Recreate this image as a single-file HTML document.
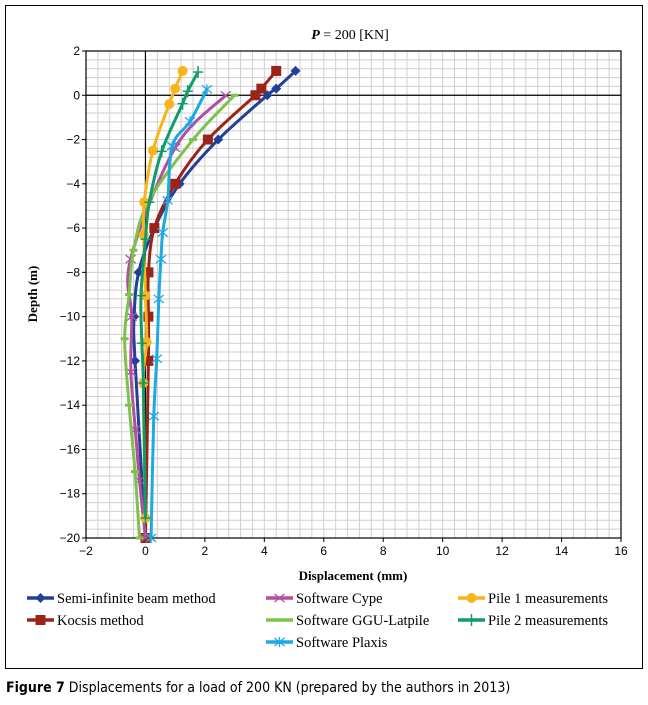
<!DOCTYPE html>
<html><head><meta charset="utf-8"><style>
body{margin:0;background:#fff;}
svg text{font-family:"Liberation Sans",sans-serif;}
</style></head><body>
<svg width="648" height="700" viewBox="0 0 648 700">
<rect x="5.5" y="5.5" width="637" height="663" fill="none" stroke="#000" stroke-width="1"/>
<g id="grid"></g>
<g id="axes"></g>
<g id="series"></g>
<text x="350" y="39" text-anchor="middle" font-size="14" style="font-family:'Liberation Serif',serif"><tspan font-style="italic" font-weight="bold">P</tspan> = 200 [KN]</text>
<text x="353" y="580" text-anchor="middle" font-size="13" font-weight="bold" style="font-family:'Liberation Serif',serif">Displacement (mm)</text>
<text transform="translate(37,294) rotate(-90)" text-anchor="middle" font-size="13" font-weight="bold" style="font-family:'Liberation Serif',serif">Depth (m)</text>
<g id="legend"></g>
<text x="6" y="692" font-size="14" style="font-family:'DejaVu Sans Condensed','Liberation Sans Narrow','Liberation Sans',sans-serif"><tspan font-weight="bold">Figure 7</tspan> Displacements for a load of 200 KN (prepared by the authors in 2013)</text>
</svg>
<script>
const xTicks=[-2,0,2,4,6,8,10,12,14,16];
const yTicks=[2,0,-2,-4,-6,-8,-10,-12,-14,-16,-18,-20];
const semiX=[5.05,4.4,4.1,2.45,1.15,0.3,-0.23,-0.38,-0.35,0];
const semiY=[1.1,0.3,0,-2,-4,-6,-8,-10,-12,-20];
const kocX=[4.4,3.9,3.7,2.1,1.0,0.3,0.1,0.1,0.1,0];
const kocY=[1.1,0.3,0,-2,-4,-6,-8,-10,-12,-20];
const cypeX=[2.7,1.0,-0.5,-0.46,-0.49,-0.34,-0.2,0];
const cypeY=[0,-2.37,-7.4,-10,-12.5,-15.1,-17.4,-20];
const gguX=[3.0,1.6,0.1,-0.4,-0.55,-0.7,-0.55,-0.35,-0.2];
const gguY=[0,-2,-4.8,-7,-9,-11,-14,-17,-20];
const p1X=[1.25,1.0,0.8,0.25,-0.04,-0.06,0,0.04,-0.07,0];
const p1Y=[1.1,0.3,-0.4,-2.5,-4.83,-6.3,-9.05,-11.15,-13,-19.1];
const p2X=[1.77,1.42,1.25,0.55,0.13,0,-0.15,-0.12,-0.07,0];
const p2Y=[1.05,0.18,-0.38,-2.53,-4.83,-6.5,-9.05,-11.2,-13,-19.1];
const plxX=[2.07,1.5,0.9,0.75,0.58,0.52,0.45,0.38,0.28,0.19];
const plxY=[0.27,-1.18,-2.3,-4.75,-6.2,-7.4,-9.2,-11.9,-14.5,-20];

const NS='http://www.w3.org/2000/svg';
const L=86,R=621,T=51,B=538,xmin=-2,xmax=16,ymin=-20,ymax=2;
const sx=v=>L+(v-xmin)/(xmax-xmin)*(R-L);
const sy=v=>B-(v-ymin)/(ymax-ymin)*(B-T);
function el(tag,attrs,parent){const e=document.createElementNS(NS,tag);for(const k in attrs)e.setAttribute(k,attrs[k]);parent.appendChild(e);return e;}
const grid=document.getElementById('grid'),axes=document.getElementById('axes'),ser=document.getElementById('series'),leg=document.getElementById('legend');
for(let v=xmin;v<=xmax+1e-9;v+=0.4){const g=el('line',{x1:sx(v),x2:sx(v),y1:T,y2:B,stroke:'#cfcfcf','stroke-width':1},grid);}
for(let v=ymin;v<=ymax+1e-9;v+=0.4){const g=el('line',{x1:L,x2:R,y1:sy(v),y2:sy(v),stroke:'#cfcfcf','stroke-width':1},grid);}
let f=el('rect',{x:L,y:T,width:R-L,height:B-T,fill:'none',stroke:'#000','stroke-width':1.2},axes);

let a=el('line',{x1:sx(0),x2:sx(0),y1:T,y2:B,stroke:'#000','stroke-width':1.2},axes);

a=el('line',{x1:L,x2:R,y1:sy(0),y2:sy(0),stroke:'#000','stroke-width':1.2},axes);

xTicks.forEach(v=>{const t=el('text',{x:sx(v),y:B+17,'text-anchor':'middle','font-size':12},axes);t.textContent=(v<0?'\u2212'+(-v):v);

el('line',{x1:sx(v),x2:sx(v),y1:B,y2:B+4,stroke:'#000'},axes);});
yTicks.forEach(v=>{const t=el('text',{x:L-6,y:sy(v)+4,'text-anchor':'end','font-size':12},axes);t.textContent=(v<0?'\u2212'+(-v):v);

el('line',{x1:L-4,x2:L,y1:sy(v),y2:sy(v),stroke:'#000'},axes);});

function marker(type,x,y,c,g){
 if(type==='diamond')el('polygon',{points:`${x},${y-5} ${x+5},${y} ${x},${y+5} ${x-5},${y}`,fill:c},g);
 else if(type==='square')el('rect',{x:x-5,y:y-5,width:10,height:10,fill:c},g);
 else if(type==='circle')el('circle',{cx:x,cy:y,r:5,fill:c},g);
 else if(type==='x'){el('line',{x1:x-5,y1:y-4,x2:x+5,y2:y+4,stroke:c,'stroke-width':1.3},g);el('line',{x1:x-5,y1:y+4,x2:x+5,y2:y-4,stroke:c,'stroke-width':1.3},g);}
 else if(type==='star'){el('line',{x1:x-5,y1:y-4,x2:x+5,y2:y+4,stroke:c,'stroke-width':1.3},g);el('line',{x1:x-5,y1:y+4,x2:x+5,y2:y-4,stroke:c,'stroke-width':1.3},g);el('line',{x1:x,y1:y-5,x2:x,y2:y+5,stroke:c,'stroke-width':1.3},g);}
 else if(type==='plus'){el('line',{x1:x-5,y1:y,x2:x+5,y2:y,stroke:c,'stroke-width':1.5},g);el('line',{x1:x,y1:y-6,x2:x,y2:y+6,stroke:c,'stroke-width':1.5},g);}
 else if(type==='dash'){el('line',{x1:x-4,y1:y,x2:x+4,y2:y,stroke:c,'stroke-width':3},g);}
}
function smooth(pts){let d=`M${pts[0][0]},${pts[0][1]}`;for(let i=0;i<pts.length-1;i++){const p0=pts[i-1]||pts[i],p1=pts[i],p2=pts[i+1],p3=pts[i+2]||p2;
 const c1=[p1[0]+(p2[0]-p0[0])/6,p1[1]+(p2[1]-p0[1])/6],c2=[p2[0]-(p3[0]-p1[0])/6,p2[1]-(p3[1]-p1[1])/6];d+=` C${c1[0]},${c1[1]} ${c2[0]},${c2[1]} ${p2[0]},${p2[1]}`;}return d;}
const S=[
 {n:'semi-infinite',xs:semiX,ys:semiY,c:'#22409a',m:'diamond',label:'Semi-infinite beam method',lx:27,ly:602},
 {n:'kocsis',xs:kocX,ys:kocY,c:'#9b2317',m:'square',label:'Kocsis method',lx:27,ly:624},
 {n:'cype',xs:cypeX,ys:cypeY,c:'#b04fa0',m:'x',label:'Software Cype',lx:266,ly:602},
 {n:'ggu-latpile',xs:gguX,ys:gguY,c:'#7dc24a',m:'dash',label:'Software GGU-Latpile',lx:266,ly:624},
 {n:'plaxis',xs:plxX,ys:plxY,c:'#1ea9e1',m:'star',label:'Software Plaxis',lx:266,ly:646},
 {n:'pile-1',xs:p1X,ys:p1Y,c:'#f7b41c',m:'circle',label:'Pile 1 measurements',lx:458,ly:602},
 {n:'pile-2',xs:p2X,ys:p2Y,c:'#109b6a',m:'plus',label:'Pile 2 measurements',lx:458,ly:624}
];
S.forEach(s=>{
 const g=el('g',{},ser);
 const pts=s.xs.map((v,i)=>[sx(v),sy(s.ys[i])]);
 const p=el('path',{d:smooth(pts),fill:'none',stroke:s.c,'stroke-width':3,'stroke-linejoin':'round'},g);
 
 pts.forEach(q=>marker(s.m,q[0],q[1],s.c,g));
 const lg=el('g',{},leg);
 el('line',{x1:s.lx,x2:s.lx+27,y1:s.ly-4,y2:s.ly-4,stroke:s.c,'stroke-width':3.5},lg);
 if(s.m!=='dash')marker(s.m,s.lx+13.5,s.ly-4,s.c,lg);
 const t=el('text',{x:s.lx+30,y:s.ly+1,'font-size':14.5,style:"font-family:'Liberation Serif',serif"},lg);t.textContent=s.label;
});
</script>
</body></html>
